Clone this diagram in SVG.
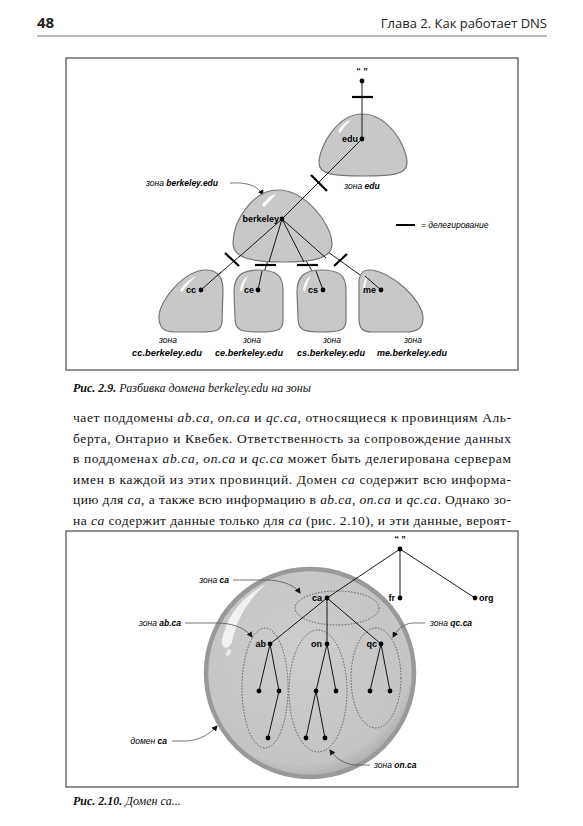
<svg xmlns="http://www.w3.org/2000/svg" width="583" height="826" viewBox="0 0 583 826">
<style>
.hdr{font-family:"Open Sans","Liberation Sans",sans-serif;fill:#222}
.frame{fill:none;stroke:#555;stroke-width:1.3}
.blob{fill:#c8c8c8;stroke:#777;stroke-width:1.2}
.hl{fill:#fff;opacity:0.9}
.ln{stroke:#000;stroke-width:0.9;fill:none}
.del{stroke:#000;stroke-width:2.2}
.dot{fill:#000}
.lbl{font-family:"Liberation Sans",Arial,sans-serif;font-weight:bold;font-size:9px;fill:#000}
.it{font-family:"Liberation Sans",Arial,sans-serif;font-style:italic;font-size:8.5px;fill:#000}
.b{font-weight:bold;font-style:italic}
.lead{fill:none;stroke:#555;stroke-width:0.8}
.zone{fill:none;stroke:#333;stroke-width:0.7;stroke-dasharray:1.5 1.5}
.body{font-family:"Liberation Serif","DejaVu Serif","Times New Roman",serif;font-size:13.5px;fill:#111}
.i{font-style:italic}
.cap{font-family:"Liberation Serif","DejaVu Serif","Times New Roman",serif;font-size:12px;font-style:italic;fill:#111}
</style>
<defs>
<marker id="ah" markerWidth="6" markerHeight="6" refX="5" refY="3" orient="auto" markerUnits="userSpaceOnUse">
<path d="M0,0 L6,3 L0,6 Z" fill="#111"/>
</marker>
<radialGradient id="sph" cx="0.45" cy="0.4" r="0.6">
<stop offset="0" stop-color="#cdcdcd"/>
<stop offset="0.9" stop-color="#c4c4c4"/>
<stop offset="1" stop-color="#b0b0b0"/>
</radialGradient>
</defs>
<rect width="583" height="826" fill="#fff"/>

<!-- header -->
<g id="header">
<text x="37" y="28" class="hdr" font-size="15" font-weight="bold">48</text>
<text x="547" y="28" class="hdr" font-size="13" text-anchor="end">Глава 2. Как работает DNS</text>
<line x1="37" y1="36" x2="547" y2="36" stroke="#777" stroke-width="1.2"/>
</g>

<!-- figure 2.9 -->
<rect class="frame" x="66" y="58" width="452" height="312"/>

<g id="connectors-fig1">
<line class="ln" x1="362" y1="81" x2="362" y2="139"/>
<line class="ln" x1="362" y1="139" x2="282" y2="219"/>
<line class="ln" x1="282" y1="219" x2="201" y2="290"/>
<line class="ln" x1="282" y1="219" x2="258" y2="290"/>
<line class="ln" x1="282" y1="219" x2="323" y2="290"/>
<line class="ln" x1="282" y1="219" x2="381" y2="290"/>
<line class="del" x1="352" y1="97" x2="373" y2="97"/>
<line class="del" x1="311" y1="175" x2="327" y2="191"/>
<line class="del" x1="225" y1="253" x2="239" y2="266"/>
<line class="del" x1="255" y1="265" x2="276" y2="265"/>
<line class="del" x1="297" y1="265" x2="318" y2="265"/>
<line class="del" x1="334" y1="266" x2="347" y2="254"/>
<path class="lead" d="M230 183 C248 182 258 186 263 195" marker-end="url(#ah)"/>
</g>

<g id="root1">
<text x="362" y="74" class="lbl" text-anchor="middle" font-size="8">“ ”</text>
<circle class="dot" cx="362" cy="81" r="2.4"/>
</g>

<g id="edu">
<path class="blob" d="M362 114 C388 114 407 146 407 163 C407 174 395 176 363 176 C332 176 319 174 319 163 C319 146 338 114 362 114 Z"/>
<path class="hl" d="M338 132 C341 125 346 121 351 120 C347 124 343 128 340 133 Z"/>
<line class="ln" x1="362" y1="114" x2="362" y2="139"/>
<line class="ln" x1="362" y1="139" x2="325" y2="176"/>
<circle class="dot" cx="362" cy="139" r="2.4"/>
<text x="358" y="142" class="lbl" text-anchor="end">edu</text>
<text x="362" y="189" class="it" text-anchor="middle">зона <tspan class="b">edu</tspan></text>
</g>

<g id="berkeley">
<path class="blob" d="M278 190 C306 190 332 225 332 244 C332 259 312 262 283 262 C254 262 233 259 233 243 C233 222 252 190 278 190 Z"/>
<path class="hl" d="M262 205 C266 199 271 195 276 194 C272 199 268 203 264 207 Z"/>
<line class="ln" x1="282" y1="219" x2="239" y2="257"/>
<line class="ln" x1="282" y1="219" x2="269" y2="262"/>
<line class="ln" x1="282" y1="219" x2="304" y2="262"/>
<line class="ln" x1="282" y1="219" x2="326" y2="258"/>
<line class="ln" x1="282" y1="219" x2="311" y2="190"/>
<circle class="dot" cx="282" cy="219" r="2.4"/>
<text x="279" y="222" class="lbl" text-anchor="end">berkeley</text>
<text x="182" y="186" class="it" text-anchor="middle">зона <tspan class="b">berkeley.edu</tspan></text>
</g>

<g id="cc">
<path class="blob" d="M206 270 C218 270 223 277 223 290 L222 321 C222 331 215 332 201 332 L174 332 C163 332 159 327 159 317 C159 300 185 270 206 270 Z"/>
<path class="hl" d="M180 290 C185 283 191 278 196 276 C191 281 186 286 182 292 Z"/>
<line class="ln" x1="201" y1="290" x2="221" y2="272"/>
<circle class="dot" cx="201" cy="290" r="2.4"/>
<text x="196" y="293" class="lbl" text-anchor="end">cc</text>
<text x="168" y="343" class="it" text-anchor="middle">зона</text>
<text x="167" y="356" class="lbl" text-anchor="middle" font-style="italic" textLength="70" lengthAdjust="spacingAndGlyphs">cc.berkeley.edu</text>
</g>

<g id="ce">
<path class="blob" d="M258 270 C276 270 283 275 283 290 L283 320 C283 330 278 332 259 332 C240 332 235 330 235 318 L234 292 C234 276 242 270 258 270 Z"/>
<path class="hl" d="M240 290 C241 283 244 278 248 276 C245 281 243 286 242 292 Z"/>
<line class="ln" x1="258" y1="290" x2="262" y2="271"/>
<circle class="dot" cx="258" cy="290" r="2.4"/>
<text x="254" y="293" class="lbl" text-anchor="end">ce</text>
<text x="252" y="343" class="it" text-anchor="middle">зона</text>
<text x="249" y="356" class="lbl" text-anchor="middle" font-style="italic" textLength="68" lengthAdjust="spacingAndGlyphs">ce.berkeley.edu</text>
</g>

<g id="cs">
<path class="blob" d="M321 270 C339 270 346 275 346 290 L346 320 C346 330 341 332 322 332 C303 332 298 330 298 318 L297 292 C297 276 305 270 321 270 Z"/>
<path class="hl" d="M303 290 C304 283 307 278 311 276 C308 281 306 286 305 292 Z"/>
<line class="ln" x1="323" y1="290" x2="316" y2="271"/>
<circle class="dot" cx="323" cy="290" r="2.4"/>
<text x="318" y="293" class="lbl" text-anchor="end">cs</text>
<text x="332" y="343" class="it" text-anchor="middle">зона</text>
<text x="331" y="356" class="lbl" text-anchor="middle" font-style="italic" textLength="68" lengthAdjust="spacingAndGlyphs">cs.berkeley.edu</text>
</g>

<g id="me">
<path class="blob" d="M369 270 C390 270 423 300 423 318 C423 328 418 332 405 332 L372 332 C362 332 359 328 359 318 L359 284 C359 274 362 270 369 270 Z"/>
<path class="hl" d="M363 290 C363 283 365 278 368 275 C366 281 365 286 365 292 Z"/>
<line class="ln" x1="381" y1="290" x2="365" y2="276"/>
<circle class="dot" cx="381" cy="290" r="2.4"/>
<text x="376" y="293" class="lbl" text-anchor="end">me</text>
<text x="413" y="343" class="it" text-anchor="middle">зона</text>
<text x="412" y="356" class="lbl" text-anchor="middle" font-style="italic" textLength="70" lengthAdjust="spacingAndGlyphs">me.berkeley.edu</text>
</g>

<g id="legend">
<line x1="396" y1="225" x2="415" y2="225" stroke="#000" stroke-width="2"/>
<text x="421" y="228" class="it">= делегирование</text>
</g>

<text x="73" y="392" class="cap"><tspan font-weight="bold">Рис. 2.9.</tspan> Разбивка домена berkeley.edu на зоны</text>

<!-- body text -->
<g id="body">
<text class="body" x="73" y="422" textLength="438" lengthAdjust="spacing">чает поддомены <tspan class="i">ab.ca</tspan>, <tspan class="i">on.ca</tspan> и <tspan class="i">qc.ca</tspan>, относящиеся к провинциям Аль-</text>
<text class="body" x="73" y="442.5" textLength="438" lengthAdjust="spacing">берта, Онтарио и Квебек. Ответственность за сопровождение данных</text>
<text class="body" x="73" y="463" textLength="438" lengthAdjust="spacing">в поддоменах <tspan class="i">ab.ca</tspan>, <tspan class="i">on.ca</tspan> и <tspan class="i">qc.ca</tspan> может быть делегирована серверам</text>
<text class="body" x="73" y="483.5" textLength="438" lengthAdjust="spacing">имен в каждой из этих провинций. Домен <tspan class="i">ca</tspan> содержит всю информа-</text>
<text class="body" x="73" y="504" textLength="438" lengthAdjust="spacing">цию для <tspan class="i">ca</tspan>, а также всю информацию в <tspan class="i">ab.ca</tspan>, <tspan class="i">on.ca</tspan> и <tspan class="i">qc.ca</tspan>. Однако зо-</text>
<text class="body" x="73" y="524.5" textLength="438" lengthAdjust="spacing">на <tspan class="i">ca</tspan> содержит данные только для <tspan class="i">ca</tspan> (рис. 2.10), и эти данные, вероят-</text>
</g>

<!-- figure 2.10 -->
<rect class="frame" x="66" y="531" width="452" height="256"/>

<g id="domain-ca">
<circle cx="310" cy="673" r="104" fill="url(#sph)" stroke="#999" stroke-width="4.5"/>
<path d="M222 640 C226 618 240 598 266 584 C248 600 237 618 232 642 C229 650 221 650 222 640 Z" fill="#fff" opacity="0.75"/>
<path d="M226 655 C226 650 229 648 231 650 C231 654 228 658 226 655 Z" fill="#fff" opacity="0.6"/>
</g>

<g id="zones">
<ellipse id="zone-ca" class="zone" cx="337" cy="608" rx="42" ry="17"/>
<ellipse id="zone-ab" class="zone" cx="265" cy="688" rx="23" ry="60"/>
<ellipse id="zone-on" class="zone" cx="318" cy="691" rx="29" ry="61"/>
<ellipse id="zone-qc" class="zone" cx="376" cy="678" rx="25" ry="50"/>
</g>

<g id="connectors-fig2">
<line class="ln" x1="400" y1="549" x2="327" y2="598"/>
<line class="ln" x1="400" y1="549" x2="400" y2="598"/>
<line class="ln" x1="400" y1="549" x2="475" y2="598"/>
<line class="ln" x1="327" y1="598" x2="270" y2="644"/>
<line class="ln" x1="327" y1="598" x2="327" y2="644"/>
<line class="ln" x1="327" y1="598" x2="381" y2="644"/>
<line class="ln" x1="270" y1="644" x2="259" y2="691"/>
<line class="ln" x1="270" y1="644" x2="279" y2="691"/>
<line class="ln" x1="279" y1="691" x2="268" y2="738"/>
<line class="ln" x1="327" y1="644" x2="316" y2="691"/>
<line class="ln" x1="327" y1="644" x2="336" y2="691"/>
<line class="ln" x1="316" y1="691" x2="306" y2="738"/>
<line class="ln" x1="316" y1="691" x2="325" y2="738"/>
<line class="ln" x1="381" y1="644" x2="370" y2="691"/>
<line class="ln" x1="381" y1="644" x2="390" y2="691"/>
<path class="lead" d="M233 580 L268 580 C285 581 295 586 300 593" marker-end="url(#ah)"/>
<path class="lead" d="M185 623 L220 623 C237 624 247 630 252 637" marker-end="url(#ah)"/>
<path class="lead" d="M425 623 L412 623 C403 624 397 630 393 637" marker-end="url(#ah)"/>
<path class="lead" d="M172 741 L187 741 C200 740 210 734 217 726" marker-end="url(#ah)"/>
<path class="lead" d="M370 765 L355 765 C343 764 335 757 330 750" marker-end="url(#ah)"/>
</g>

<g id="root2"><text x="400" y="542" class="lbl" text-anchor="middle" font-size="8">“ ”</text><circle class="dot" cx="400" cy="549" r="2.4"/></g>
<g id="ca"><circle class="dot" cx="327" cy="598" r="2.4"/><text x="322" y="601" class="lbl" text-anchor="end">ca</text></g>
<g id="fr"><circle class="dot" cx="400" cy="598" r="2.4"/><text x="395" y="601" class="lbl" text-anchor="end">fr</text></g>
<g id="org"><circle class="dot" cx="475" cy="598" r="2.4"/><text x="479" y="601" class="lbl">org</text></g>
<g id="ab"><circle class="dot" cx="270" cy="644" r="2.4"/><text x="266" y="647" class="lbl" text-anchor="end">ab</text></g>
<g id="on"><circle class="dot" cx="327" cy="644" r="2.4"/><text x="322" y="647" class="lbl" text-anchor="end">on</text></g>
<g id="qc"><circle class="dot" cx="381" cy="644" r="2.4"/><text x="377" y="647" class="lbl" text-anchor="end">qc</text></g>
<g id="leaves">
<circle class="dot" cx="259" cy="691" r="2.4"/>
<circle class="dot" cx="279" cy="691" r="2.4"/>
<circle class="dot" cx="268" cy="738" r="2.4"/>
<circle class="dot" cx="316" cy="691" r="2.4"/>
<circle class="dot" cx="336" cy="691" r="2.4"/>
<circle class="dot" cx="306" cy="738" r="2.4"/>
<circle class="dot" cx="325" cy="738" r="2.4"/>
<circle class="dot" cx="370" cy="691" r="2.4"/>
<circle class="dot" cx="390" cy="691" r="2.4"/>
</g>
<g id="labels-fig2">
<text x="229" y="583" class="it" text-anchor="end">зона <tspan class="b">ca</tspan></text>
<text x="181" y="626" class="it" text-anchor="end">зона <tspan class="b">ab.ca</tspan></text>
<text x="430" y="626" class="it">зона <tspan class="b">qc.ca</tspan></text>
<text x="167" y="744" class="it" text-anchor="end">домен <tspan class="b">ca</tspan></text>
<text x="374" y="768" class="it">зона <tspan class="b">on.ca</tspan></text>
</g>

<text x="73" y="805" class="cap"><tspan font-weight="bold">Рис. 2.10.</tspan> Домен ca...</text>
</svg>
